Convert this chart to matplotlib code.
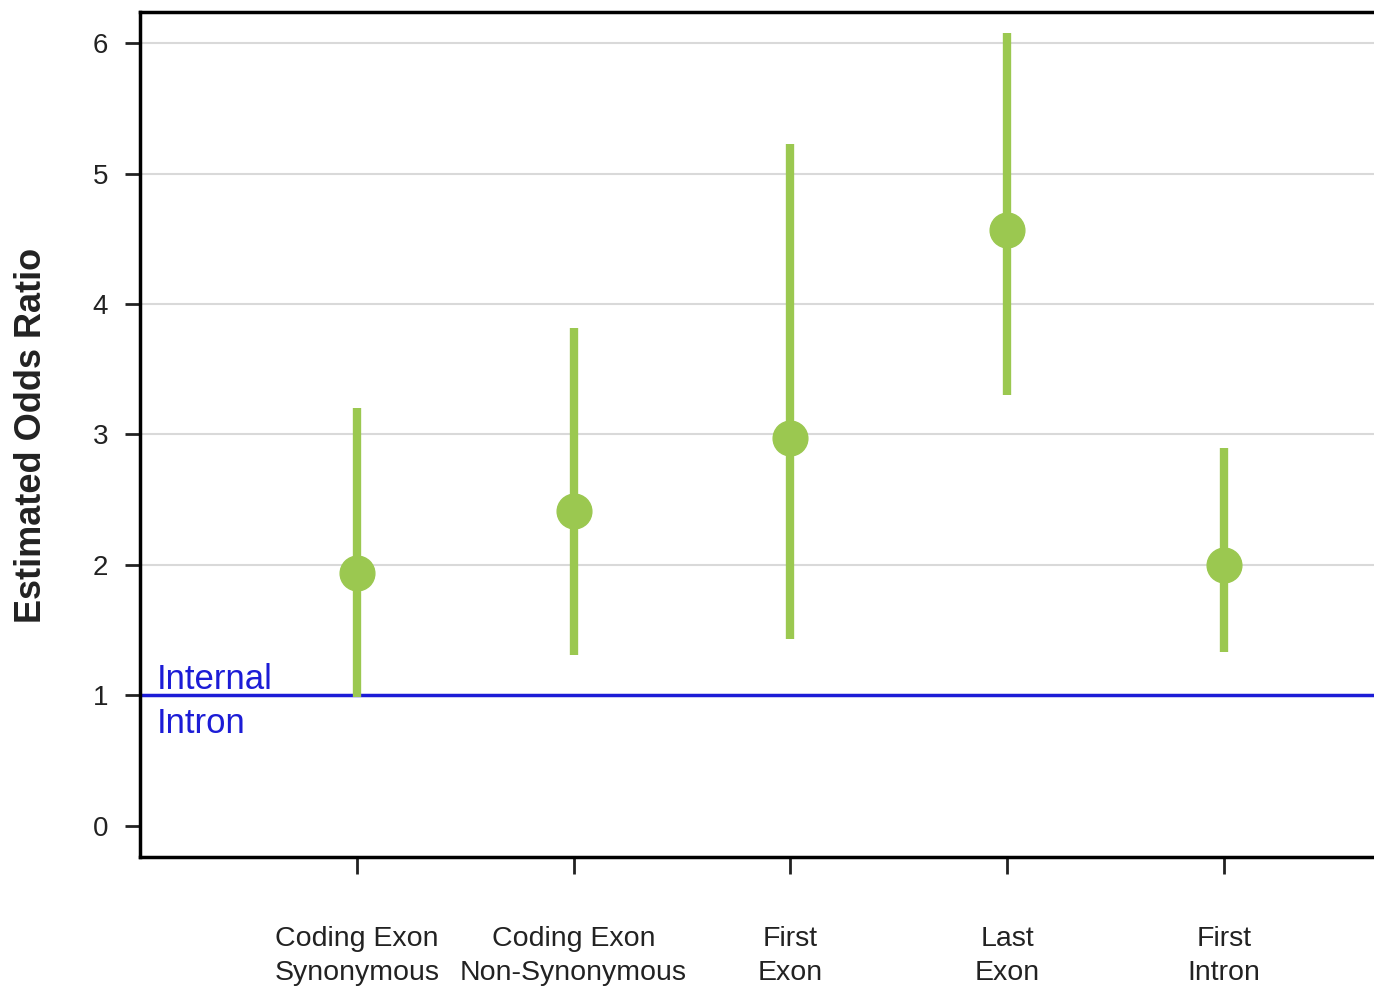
import matplotlib.pyplot as plt

categories = ['Coding Exon\nSynonymous', 'Coding Exon\nNon-Synonymous', 'First\nExon', 'Last\nExon', 'First\nIntron']
odds = [1.94, 2.41, 2.97, 4.57, 2.00]
lower = [0.99, 1.31, 1.43, 3.30, 1.33]
upper = [3.20, 3.82, 5.23, 6.08, 2.90]
yticks = [0, 1, 2, 3, 4, 5, 6]

plt.rcParams['font.family'] = ['Liberation Sans', 'DejaVu Sans']

green = '#9bc850'
blue = '#1c1cd6'

fig = plt.figure(figsize=(13.74, 9.89), dpi=100)
ax = fig.add_axes([0.1019, 0.1335, 0.9465, 0.8544])

xs = list(range(1, len(categories) + 1))

# grid lines
for y in yticks[2:]:
    ax.axhline(y, color='#d9d9d9', lw=1.5, zorder=0)

# reference line
ax.axhline(1, color=blue, lw=2.5, zorder=1)
ax.text(0.075, 1.05, 'Internal', color=blue, fontsize=25, ha='left', va='baseline')
ax.text(0.075, 0.91, 'Intron', color=blue, fontsize=25, ha='left', va='top')

ax.vlines(xs, lower, upper, color=green, lw=6, zorder=2)
ax.plot(xs, odds, 'o', color=green, ms=25, zorder=3)

ax.set_xlim(0, 6)
ax.set_ylim(-0.24, 6.24)
ax.set_xticks(xs)
ax.set_xticklabels(categories, fontsize=20.5, linespacing=1.4)
ax.set_yticks(yticks)
ax.tick_params(axis='y', labelsize=20, length=11, width=2, pad=12, colors='#222222')
ax.tick_params(axis='x', length=12, width=2, pad=38, colors='#222222')
for s in ['left', 'bottom', 'top']:
    ax.spines[s].set_linewidth(2.5)
ax.spines['right'].set_visible(False)

fig.text(0.023, 0.56, 'Estimated Odds Ratio', rotation=90, ha='center', va='center',
         fontsize=26, fontweight='bold', color='#222222')

fig.savefig('out.png', dpi=100)
